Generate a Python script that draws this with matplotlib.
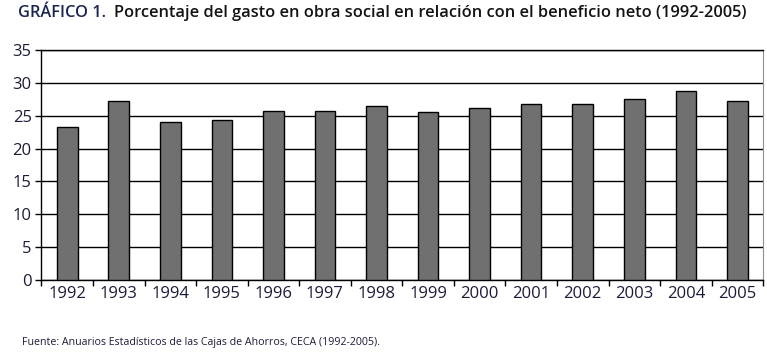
import matplotlib
matplotlib.use('Agg')
from matplotlib import pyplot as plt
import numpy as np

years = ['1992', '1993', '1994', '1995', '1996', '1997', '1998',
         '1999', '2000', '2001', '2002', '2003', '2004', '2005']
gasto_pct = [23.2, 27.2, 24.0, 24.4, 25.7, 25.7, 26.4,
             25.6, 26.1, 26.7, 26.7, 27.5, 28.8, 27.2]
y_ticks = [0, 5, 10, 15, 20, 25, 30, 35]

title_lead = 'GRÁFICO 1.'
title_text = 'Porcentaje del gasto en obra social en relación con el beneficio neto (1992-2005)'
source_text = 'Fuente: Anuarios Estadísticos de las Cajas de Ahorros, CECA (1992-2005).'

plt.rcParams['font.family'] = ['Open Sans', 'DejaVu Sans']

fig = plt.figure(figsize=(7.67, 3.53), dpi=100)
ax = fig.add_axes([0.054, 0.206, 0.941, 0.653])

x = np.arange(len(years))
ax.bar(x, gasto_pct, width=0.4, color='#707070', edgecolor='black',
       linewidth=1.0, zorder=3)

ax.set_xlim(-0.5, len(years) - 0.5)
ax.set_ylim(0, 35)
ax.set_yticks(y_ticks)
ax.set_yticklabels([str(t) for t in y_ticks], color='#1c1c38', fontsize=12)
ax.yaxis.grid(True, color='black', linewidth=1.0, zorder=0)

# year labels centred under bars, tick marks between categories
ax.set_xticks(x)
ax.set_xticklabels(years, fontsize=12, color='#1c1c38')
ax.tick_params(axis='x', which='major', length=0, pad=4)
ax.set_xticks(np.arange(-0.5, len(years)), minor=True)
ax.tick_params(axis='x', which='minor', length=4, width=1, color='black')
ax.tick_params(axis='y', length=4, width=1, pad=3)

for side in ['left', 'top', 'bottom']:
    ax.spines[side].set_color('black')
    ax.spines[side].set_linewidth(1.0)
ax.spines['right'].set_color('#909090')
ax.spines['right'].set_linewidth(0.8)

t1 = fig.text(18 / 767, 1 - 13 / 353, title_lead, fontsize=11.8,
              fontweight='semibold', color='#1c2550', va='center', ha='left')
fig.canvas.draw()
bb = t1.get_window_extent()
fig.text((bb.x1 + 8) / fig.bbox.width, 1 - 13 / 353, title_text, fontsize=11.8,
         fontweight='semibold', color='#141414', va='center', ha='left')

fig.text(22 / 767, 1 - 342 / 353, source_text, fontsize=7.7,
         color='#1c1c38', va='center', ha='left')

plt.savefig('out.png', dpi=100)
